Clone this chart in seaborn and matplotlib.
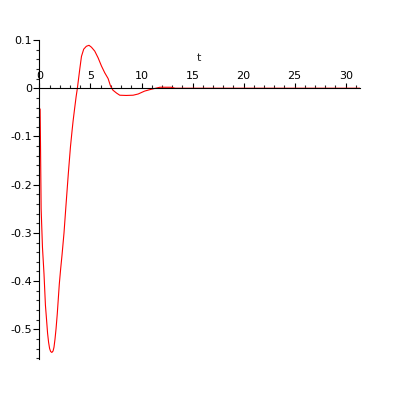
import matplotlib
matplotlib.use("Agg")
import matplotlib.pyplot as plt
import seaborn as sns
import pandas as pd
from matplotlib.ticker import FixedLocator, FixedFormatter, MultipleLocator

# data
t_vals = [0.07, 0.11, 0.17, 0.30, 0.45, 0.59, 0.70, 0.80, 0.90, 1.00, 1.10, 1.22, 1.34,
          1.43, 1.53, 1.63, 1.75, 1.85, 1.95, 2.08, 2.22, 2.41, 2.61, 2.84, 3.04, 3.20,
          3.30, 3.45, 3.60, 3.72, 3.95, 4.12, 4.34, 4.60, 4.86, 5.10, 5.42, 5.75, 6.08,
          6.40, 6.73, 6.96, 7.20, 7.55, 7.87, 8.50, 9.18, 9.67, 10.30, 10.98, 11.40,
          11.80, 12.90, 13.30, 31.40]
y_vals = [-0.043, -0.12, -0.25, -0.33, -0.385, -0.45, -0.48, -0.508, -0.527, -0.540,
          -0.546, -0.548, -0.545, -0.537, -0.520, -0.499, -0.468, -0.437, -0.406, -0.375,
          -0.345, -0.300, -0.241, -0.175, -0.122, -0.088, -0.068, -0.042, -0.017, 0.000,
          0.039, 0.066, 0.081, 0.087, 0.089, 0.085, 0.077, 0.063, 0.046, 0.032, 0.020,
          0.005, -0.004, -0.010, -0.0145, -0.015, -0.0145, -0.012, -0.006, -0.002, 0.000,
          0.002, 0.002, 0.000, 0.000]

x_ticks = [0, 5, 10, 15, 20, 25, 30]
x_tick_labels = ["0", "5", "10", "15", "20", "25", "30"]
y_ticks = [0.1, 0.0, -0.1, -0.2, -0.3, -0.4, -0.5]
y_tick_labels = ["0.1", "0", "-0.1", "-0.2", "-0.3", "-0.4", "-0.5"]
x_label = "t"

sns.set_style("white")
plt.rcParams["font.family"] = ["DejaVu Sans"]
plt.rcParams["axes.unicode_minus"] = False

df = pd.DataFrame({"t": t_vals, "y": y_vals})

fig = plt.figure(figsize=(4, 4), dpi=100)
ax = fig.add_axes([0.0985, 0.102, 0.8015, 0.798])
sns.lineplot(data=df, x="t", y="y", ax=ax, color="red", linewidth=0.8,
             sort=False, estimator=None)

ax.set_xlim(0, 31.4)
ax.set_ylim(-0.562, 0.1)

for s in ["top", "right"]:
    ax.spines[s].set_visible(False)
ax.spines["bottom"].set_position(("data", 0))
for s in ["left", "bottom"]:
    ax.spines[s].set_linewidth(0.8)
    ax.spines[s].set_color("black")
    ax.spines[s].set_zorder(3)

ax.xaxis.set_major_locator(FixedLocator(x_ticks))
ax.xaxis.set_major_formatter(FixedFormatter(x_tick_labels))
ax.xaxis.set_minor_locator(MultipleLocator(1))
ax.yaxis.set_major_locator(FixedLocator(y_ticks))
ax.yaxis.set_major_formatter(FixedFormatter(y_tick_labels))
ax.yaxis.set_minor_locator(MultipleLocator(0.02))

ax.tick_params(axis="x", which="major", direction="in", length=3.6, width=0.8,
               pad=-12.5, labelsize=8, bottom=True, colors="black")
ax.tick_params(axis="x", which="minor", direction="in", length=2.2, width=0.8,
               bottom=True)
ax.tick_params(axis="y", which="major", direction="out", length=4.3, width=0.8,
               pad=1, labelsize=8, left=True, colors="black")
ax.tick_params(axis="y", which="minor", direction="out", length=2.2, width=0.8,
               left=True)

ax.set_xlabel("")
ax.set_ylabel("")
ax.text(15.6, 0.062, x_label, ha="center", va="center", fontsize=8)

fig.savefig("out.png", dpi=100)
